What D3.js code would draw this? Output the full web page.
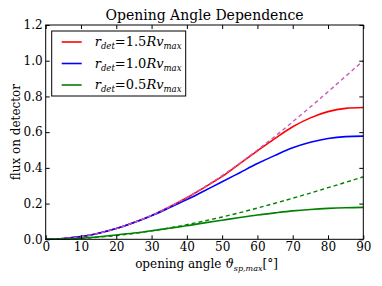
<!DOCTYPE html>
<html>
<head>
<meta charset="utf-8">
<script src="https://cdn.jsdelivr.net/npm/d3@7"></script>
<style>
  body { margin: 0; background: #fff; }
  svg { display: block; font-family: "DejaVu Serif", serif; }
</style>
</head>
<body>
<div id="chart"></div>
<script>
// opening angle in degrees
const angles = [0, 5, 10, 15, 20, 25, 30, 35, 40, 45, 50, 55, 60, 65, 70, 75, 80, 85, 90];

// flux
const fluxR15 = [0, 0.004, 0.015, 0.034, 0.06, 0.094, 0.134, 0.181, 0.233, 0.291, 0.352, 0.424, 0.495, 0.565, 0.63, 0.68, 0.715, 0.733, 0.738];
const fluxR10 = [0, 0.004, 0.015, 0.034, 0.06, 0.094, 0.132, 0.176, 0.222, 0.272, 0.322, 0.373, 0.424, 0.47, 0.512, 0.543, 0.564, 0.575, 0.578];
const fluxR05 = [0, 0.001, 0.006, 0.014, 0.024, 0.035, 0.048, 0.062, 0.076, 0.092, 0.107, 0.122, 0.136, 0.148, 0.159, 0.167, 0.173, 0.177, 0.179];
// dashed reference curves
const refUpper = [0, 0.004, 0.015, 0.034, 0.06, 0.094, 0.134, 0.181, 0.234, 0.293, 0.357, 0.426, 0.5, 0.577, 0.658, 0.741, 0.826, 0.913, 1.0];
const refLower = [0, 0.0013, 0.0053, 0.012, 0.021, 0.033, 0.047, 0.063, 0.082, 0.103, 0.125, 0.149, 0.175, 0.202, 0.23, 0.259, 0.289, 0.319, 0.35];

const xTicks = [0, 10, 20, 30, 40, 50, 60, 70, 80, 90];
const yTicks = [0, 0.2, 0.4, 0.6, 0.8, 1.0, 1.2];
const legendLabels = ["1.5", "1.0", "0.5"];

const W = 382, H = 286;
const margin = {top: 25, right: 18.7, bottom: 46.7, left: 45.7};
const width = W - margin.left - margin.right,
      height = H - margin.top - margin.bottom;

const svg = d3.select("#chart").append("svg")
  .attr("width", W).attr("height", H);

const g = svg.append("g")
  .attr("transform", `translate(${margin.left},${margin.top})`);

const x = d3.scaleLinear().domain([0, 90]).range([0, width]);
const y = d3.scaleLinear().domain([0, 1.2]).range([height, 0]);

const line = d3.line()
  .x((d, i) => x(angles[i]))
  .y(d => y(d))
  .curve(d3.curveMonotoneX);

// solid curves
const solids = [
  {vals: fluxR15, color: "#ff0000"},
  {vals: fluxR10, color: "#0000ff"},
  {vals: fluxR05, color: "#008000"}
];
solids.forEach(s => {
  g.append("path")
    .attr("d", line(s.vals))
    .attr("fill", "none")
    .attr("stroke", s.color)
    .attr("stroke-width", 1.6);
});

// dashed curves on top
g.append("path")
  .attr("d", line(refUpper))
  .attr("fill", "none")
  .attr("stroke", "#c95cb8")
  .attr("stroke-width", 1.4)
  .attr("stroke-dasharray", "4,3");
g.append("path")
  .attr("d", line(refLower))
  .attr("fill", "none")
  .attr("stroke", "#008000")
  .attr("stroke-width", 1.4)
  .attr("stroke-dasharray", "4,3");

// axes, ticks inside on all four sides
const fmtX = d3.format("d"), fmtY = d3.format(".1f");
const axB = g.append("g").attr("transform", `translate(0,${height})`)
  .call(d3.axisBottom(x).tickValues(xTicks).tickFormat(fmtX).tickSizeInner(-4).tickSizeOuter(0).tickPadding(3));
const axL = g.append("g")
  .call(d3.axisLeft(y).tickValues(yTicks).tickFormat(fmtY).tickSizeInner(-4).tickSizeOuter(0).tickPadding(3));
const axT = g.append("g")
  .call(d3.axisTop(x).tickValues(xTicks).tickFormat("").tickSizeInner(-4).tickSizeOuter(0));
const axR = g.append("g").attr("transform", `translate(${width},0)`)
  .call(d3.axisRight(y).tickValues(yTicks).tickFormat("").tickSizeInner(-4).tickSizeOuter(0));
[axB, axL, axT, axR].forEach(a => {
  a.select(".domain").remove();
  a.selectAll("text").attr("font-family", "DejaVu Serif").attr("font-size", 12).attr("fill", "#000");
  a.selectAll("line").attr("stroke", "#000");
});

// frame
g.append("rect")
  .attr("width", width).attr("height", height)
  .attr("fill", "none").attr("stroke", "#000").attr("stroke-width", 1);

// title
svg.append("text")
  .attr("x", margin.left + width / 2).attr("y", margin.top - 5)
  .attr("text-anchor", "middle")
  .attr("font-size", 14)
  .text("Opening Angle Dependence");

// x label
const xl = svg.append("text")
  .attr("x", margin.left + width / 2 + 2).attr("y", 268)
  .attr("text-anchor", "middle")
  .attr("font-size", 12);
xl.append("tspan").text("opening angle ");
xl.append("tspan").attr("font-style", "italic").text("ϑ");
xl.append("tspan").attr("font-style", "italic").attr("font-size", 8).attr("dy", 3).text("sp,max");
xl.append("tspan").attr("dy", -3).text("[°]");

// y label
svg.append("text")
  .attr("transform", `translate(20,${margin.top + height / 2}) rotate(-90)`)
  .attr("text-anchor", "middle")
  .attr("font-size", 12)
  .text("flux on detector");

// legend
const lg = g.append("g").attr("transform", "translate(6,6)");
lg.append("rect")
  .attr("width", 134).attr("height", 65)
  .attr("fill", "#fff").attr("stroke", "#000").attr("stroke-width", 1);
solids.forEach((s, i) => {
  const yy = 11 + i * 21.5;
  lg.append("line")
    .attr("x1", 10).attr("x2", 30).attr("y1", yy).attr("y2", yy)
    .attr("stroke", s.color).attr("stroke-width", 1.6);
  const t = lg.append("text")
    .attr("x", 43).attr("y", yy + 4)
    .attr("font-size", 13);
  t.append("tspan").attr("font-style", "italic").text("r");
  t.append("tspan").attr("font-style", "italic").attr("font-size", 8.5).attr("dy", 3).text("det");
  t.append("tspan").attr("dy", -3).text("=" + legendLabels[i]);
  t.append("tspan").attr("font-style", "italic").text("Rv");
  t.append("tspan").attr("font-style", "italic").attr("font-size", 8.5).attr("dy", 3).text("max");
});
</script>
</body>
</html>
